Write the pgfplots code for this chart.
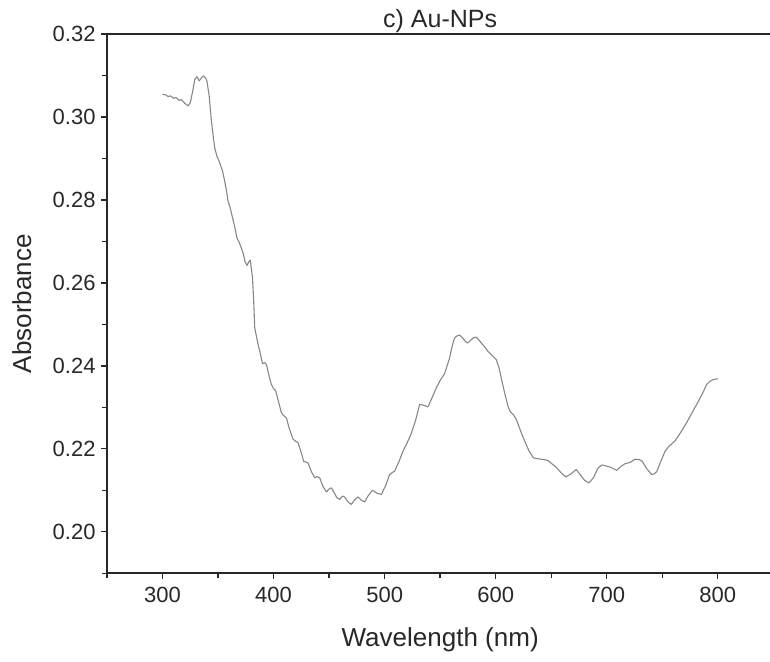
\documentclass[border=0pt]{standalone}
\usepackage{fontspec}
\setmainfont{Liberation Sans}
\usepackage{pgfplots}
\pgfplotsset{compat=1.18}
\definecolor{curvegray}{RGB}{135,135,135}
\definecolor{axisdark}{RGB}{40,40,40}
\begin{document}
\begin{tikzpicture}
\begin{axis}[
  scale only axis,
  width=666pt, height=539pt,
  xmin=250, xmax=850, ymin=0.19, ymax=0.32,
  xtick={300,400,...,800},
  minor xtick={250,350,...,850},
  ytick={0.20,0.22,...,0.32},
  minor ytick={0.19,0.21,...,0.31},
  scaled y ticks=false,
  tick pos=left,
  tick align=outside,
  major tick length=6pt,
  minor tick length=5pt,
  every tick/.style={line width=1.4pt, axisdark},
  axis line style={line width=1.6pt, axisdark},
  /pgf/number format/assume math mode=true,
  ticklabel style={font=\fontsize{22}{26}\selectfont, text=axisdark},
  xticklabel style={yshift=-4pt},
  yticklabel style={xshift=-2pt, /pgf/number format/.cd, fixed, fixed zerofill, precision=2},
  xlabel={Wavelength (nm)},
  ylabel={Absorbance},
  every axis x label/.style={at={(axis description cs:0.5,-0.1227)}, anchor=center, font=\fontsize{26}{30}\selectfont, text=axisdark},
  every axis y label/.style={at={(axis description cs:-0.128,0.5)}, rotate=90, anchor=center, font=\fontsize{26}{30}\selectfont, text=axisdark},
  title={c) Au-NPs},
  every axis title/.style={at={(axis description cs:0.5,1)}, anchor=base, yshift=7pt, font=\fontsize{25}{29}\selectfont, text=axisdark},
]
\addplot[curvegray, line width=1.1pt, line join=round] coordinates {
(300,0.3055) (303,0.3053) (305,0.3049) (307,0.3051) (310,0.3045) (312,0.3047)
(315,0.3040) (317,0.3042) (320,0.3033) (323,0.3027) (325,0.3035) (327,0.3060)
(329,0.3090) (331,0.3097) (333,0.3087) (335,0.3094) (337,0.3099) (339,0.3093)
(340,0.3086) (342,0.3050) (344,0.2990) (346,0.2945) (347,0.2925) (349,0.2905)
(351,0.2893) (354,0.2870) (356,0.2845) (358,0.2815) (359,0.2797) (361,0.2780)
(363,0.2757) (365,0.2735) (367,0.2708) (369,0.2698) (371,0.2684) (373,0.2668)
(374,0.2653) (376,0.2642) (378,0.2652) (379,0.2655) (381,0.2612) (382,0.2560)
(383,0.2492) (385,0.2465) (386,0.2452) (388,0.2430) (390,0.2405) (392,0.2408)
(393.5,0.2403) (396,0.2375) (398,0.2355) (400,0.2345) (402,0.2339) (404,0.2318)
(407,0.2287) (409,0.2280) (411.5,0.2275) (414,0.2250) (417.5,0.2223) (420,0.2218)
(422,0.2215) (425,0.2190) (427,0.2170) (429,0.2168) (431,0.2166) (434,0.2145)
(437,0.2130) (439,0.2133) (441.5,0.2130) (444,0.2112) (447.5,0.2096) (450,0.2103)
(452,0.2106) (455,0.2092) (457,0.2082) (459.5,0.2078) (462,0.2086) (464,0.2084)
(467,0.2072) (470,0.2066) (473,0.2077) (476,0.2084) (479,0.2076) (482,0.2072)
(485,0.2086) (489,0.2100) (493,0.2093) (497,0.2090) (501,0.2112) (504.5,0.2138)
(507,0.2143) (509,0.2146) (513,0.2170) (516.5,0.2194) (520,0.2213) (524,0.2237)
(528,0.2270) (531.5,0.2307) (535,0.2305) (539,0.2301) (543,0.2325) (546.5,0.2347)
(550,0.2365) (554,0.2381) (558.5,0.2419) (561,0.2450) (563,0.2467) (565,0.2472)
(567.5,0.2474) (570,0.2468) (573,0.2458) (575,0.2455) (578,0.2463) (580,0.2468)
(582.5,0.2469) (585,0.2462) (588,0.2452) (590,0.2446) (593,0.2435) (596,0.2427)
(600.5,0.2415) (603,0.2395) (605,0.2371) (608,0.2335) (611,0.2303) (613,0.2290)
(616,0.2282) (618.5,0.2271) (622,0.2246) (626,0.2219) (630,0.2195) (634,0.2178)
(638,0.2176) (643,0.2174) (647,0.2172) (651,0.2163) (655,0.2154) (659,0.2142)
(663,0.2132) (668,0.2140) (672.5,0.2150) (676,0.2138) (680,0.2124) (684,0.2118)
(688,0.2130) (692,0.2153) (695.5,0.2161) (699,0.2159) (703,0.2156) (706,0.2152)
(709,0.2148) (713,0.2158) (716.5,0.2164) (721,0.2167) (725.5,0.2175) (729,0.2174)
(732,0.2170) (736,0.2152) (740.5,0.2138) (743,0.2140) (745,0.2145) (748,0.2165)
(752.5,0.2194) (756,0.2206) (761.5,0.2219) (766,0.2237) (772,0.2263) (776,0.2283)
(781,0.2307) (786,0.2332) (790,0.2355) (793,0.2363) (796,0.2367) (800,0.2369)
};
\end{axis}
\pgfresetboundingbox
\path[use as bounding box] ([xshift=-107pt,yshift=-88pt]current axis.south west) rectangle ([xshift=-3.3pt,yshift=34pt]current axis.north east);
\end{tikzpicture}
\end{document}
